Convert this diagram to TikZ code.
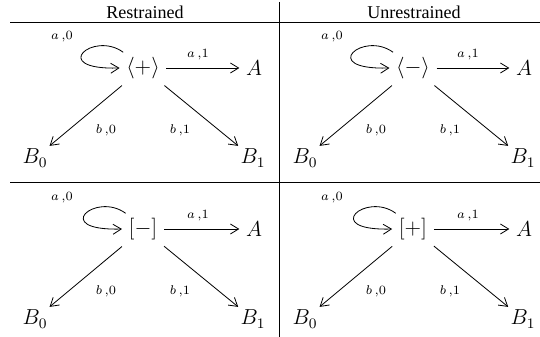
\documentclass[tikz,border=0pt]{standalone}
\usepackage{fontspec}
\setmainfont{Liberation Serif}
\usetikzlibrary{arrows.meta}
\tikzset{
  arr/.style={-{Straight Barb[length=4.5pt,width=5.5pt]},line width=0.45pt},
  rulel/.style={line width=0.55pt},
  lbl/.style={font=\scriptsize,inner sep=0pt},
  stt/.style={inner sep=3.5pt,font=\large},
  bnode/.style={inner sep=1.5pt,font=\large},
  pics/cell/.style={code={
    \node[stt] (-s) at (143,68) {#1};
    \node[stt] (-A) at (254,68) {$A$};
    \node[bnode] (-B0) at (35,158) {$B_0$};
    \node[bnode] (-B1) at (253,158) {$B_1$};
    \draw[arr] (-s) -- (-A);
    \draw[arr] (-s) -- (-B0);
    \draw[arr] (-s) -- (-B1);
    \draw[arr] ([shift={(2pt,-1pt)}]-s.north west) .. controls +(-30,-22) and +(-72,2) .. (-s.west);
    \node[lbl] (-la0) at (62,37) {$a\,{,}0$};
    \node[lbl] (-la1) at (198,55) {$a\,{,}1$};
    \node[lbl] (-lb0) at (106,130) {$b\,{,}0$};
    \node[lbl] (-lb1) at (180,130) {$b\,{,}1$};
  }}
}
\begin{document}
\begin{tikzpicture}[x=0.553pt,y=-0.553pt]
\useasboundingbox (0,0) rectangle (540,337);
\node (h1) at (145,12) {Restrained};
\node (h2) at (414,12) {Unrestrained};
\coordinate (l1a) at (10,23);
\coordinate (l1b) at (540,23);
\coordinate (l2a) at (10,182);
\coordinate (l2b) at (540,182);
\coordinate (v1) at (279,2);
\coordinate (v2) at (279,337);
\draw[rulel] (l1a) -- (l1b);
\draw[rulel] (l2a) -- (l2b);
\draw[rulel] (v1) -- (v2);
\pic (tl) at (0,0) {cell={$\langle+\rangle$}};
\pic (tr) at (270,0) {cell={$\langle-\rangle$}};
\pic (bl) at (0,161) {cell={$[-]$}};
\pic (br) at (270,161) {cell={$[+]$}};
\end{tikzpicture}
\end{document}
